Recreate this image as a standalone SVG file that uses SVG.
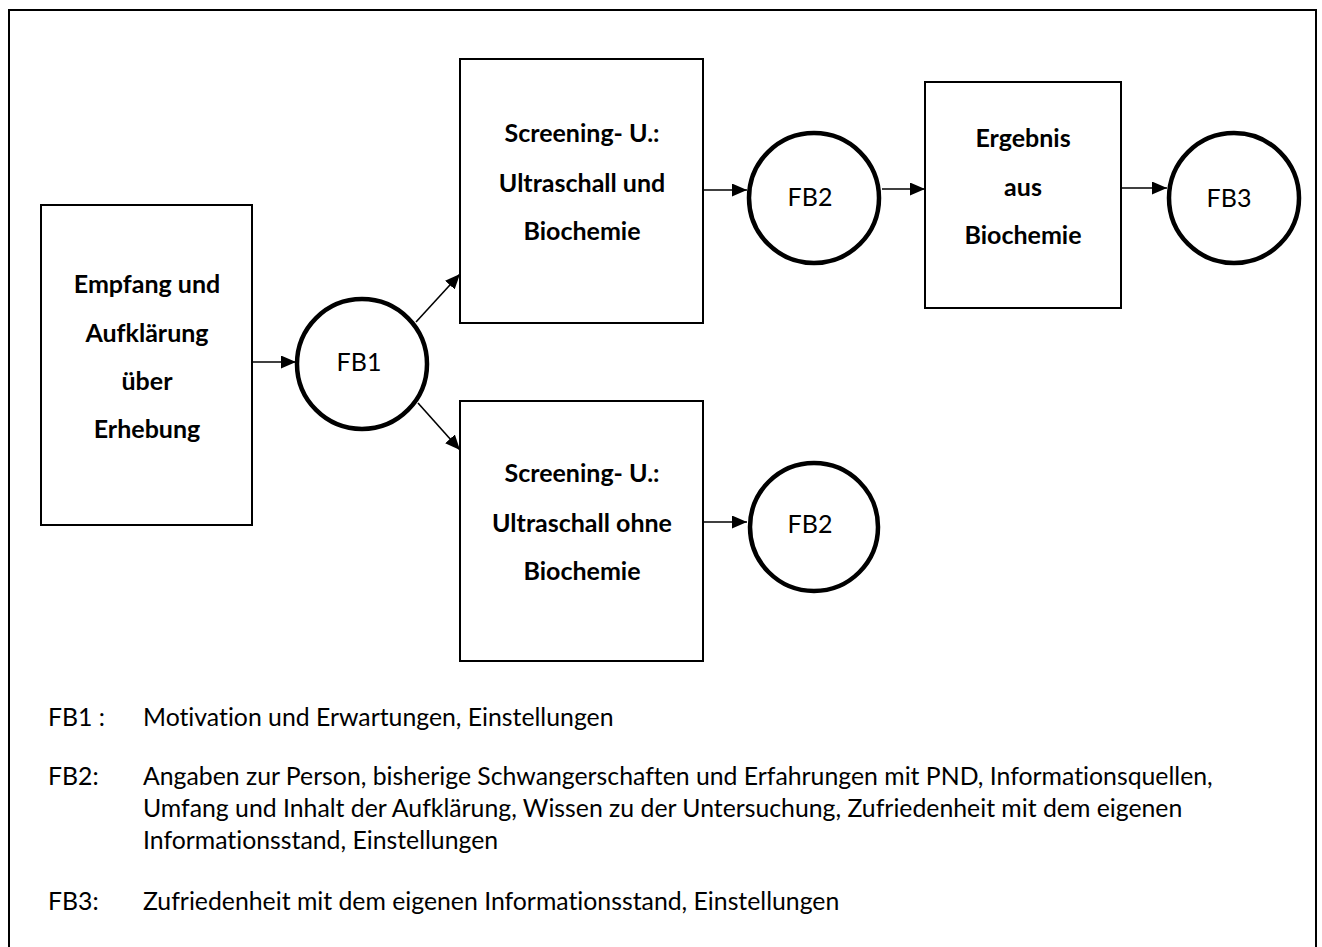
<svg xmlns="http://www.w3.org/2000/svg" width="1322" height="947" viewBox="0 0 1322 947">
<style>
  .frame{fill:none;stroke:#000;stroke-width:2}
  .box{fill:#fff;stroke:#000;stroke-width:2}
  .circ{fill:#fff;stroke:#000;stroke-width:4.5}
  .conn{fill:none;stroke:#000;stroke-width:1.6}
  text{font-family:Lato,"Liberation Sans",sans-serif;font-variant-ligatures:none;fill:#000}
  .bt{font-size:25px;font-weight:bold;text-anchor:middle}
  .ct{font-size:25px;text-anchor:middle}
  .lt{font-size:24.8px}
</style>
<defs>
  <marker id="ah" viewBox="0 0 15 13" refX="15" refY="6.5" markerWidth="15" markerHeight="13" markerUnits="userSpaceOnUse" orient="auto" preserveAspectRatio="none">
    <path d="M0,0 L15,6.5 L0,13 z" fill="#000"/>
  </marker>
</defs>
<rect width="1322" height="947" fill="#fff"/>
<rect class="frame" x="9" y="10" width="1307" height="960"/>

<g id="connectors">
  <line class="conn" x1="252" y1="362" x2="296" y2="362" marker-end="url(#ah)"/>
  <line class="conn" x1="416" y1="322" x2="460" y2="274" marker-end="url(#ah)"/>
  <line class="conn" x1="418" y1="403" x2="460" y2="450" marker-end="url(#ah)"/>
  <line class="conn" x1="703" y1="190" x2="747" y2="190" marker-end="url(#ah)"/>
  <line class="conn" x1="882" y1="189" x2="925" y2="189" marker-end="url(#ah)"/>
  <line class="conn" x1="1121" y1="188" x2="1167" y2="188" marker-end="url(#ah)"/>
  <line class="conn" x1="703" y1="522" x2="747" y2="522" marker-end="url(#ah)"/>
</g>

<g id="empfang">
  <rect class="box" x="41" y="205" width="211" height="320"/>
  <text class="bt" x="147" y="293">Empfang und</text>
  <text class="bt" x="147" y="342">Aufklärung</text>
  <text class="bt" x="147" y="390">über</text>
  <text class="bt" x="147" y="438">Erhebung</text>
</g>

<g id="fb1">
  <circle class="circ" cx="362" cy="364" r="65"/>
  <text class="ct" x="359" y="371">FB1</text>
</g>

<g id="screening-bio">
  <rect class="box" x="460" y="59" width="243" height="264"/>
  <text class="bt" x="582" y="142">Screening- U.:</text>
  <text class="bt" x="582" y="192">Ultraschall und</text>
  <text class="bt" x="582" y="240">Biochemie</text>
</g>

<g id="screening-ohne">
  <rect class="box" x="460" y="401" width="243" height="260"/>
  <text class="bt" x="582" y="482">Screening- U.:</text>
  <text class="bt" x="582" y="532">Ultraschall ohne</text>
  <text class="bt" x="582" y="580">Biochemie</text>
</g>

<g id="fb2-top">
  <circle class="circ" cx="814" cy="198" r="65"/>
  <text class="ct" x="810" y="206">FB2</text>
</g>

<g id="fb2-bottom">
  <circle class="circ" cx="814" cy="527" r="64"/>
  <text class="ct" x="810" y="533">FB2</text>
</g>

<g id="ergebnis">
  <rect class="box" x="925" y="82" width="196" height="226"/>
  <text class="bt" x="1023" y="147">Ergebnis</text>
  <text class="bt" x="1023" y="196">aus</text>
  <text class="bt" x="1023" y="244">Biochemie</text>
</g>

<g id="fb3">
  <circle class="circ" cx="1234" cy="198" r="65"/>
  <text class="ct" x="1229" y="207">FB3</text>
</g>

<g id="legend">
  <text class="lt" x="48" y="726">FB1 :</text>
  <text class="lt" x="143" y="726">Motivation und Erwartungen, Einstellungen</text>
  <text class="lt" x="48" y="785">FB2:</text>
  <text class="lt" x="143" y="785">Angaben zur Person, bisherige Schwangerschaften und Erfahrungen mit PND, Informationsquellen,</text>
  <text class="lt" x="143" y="817">Umfang und Inhalt der Aufklärung, Wissen zu der Untersuchung, Zufriedenheit mit dem eigenen</text>
  <text class="lt" x="143" y="849">Informationsstand, Einstellungen</text>
  <text class="lt" x="48" y="910">FB3:</text>
  <text class="lt" x="143" y="910">Zufriedenheit mit dem eigenen Informationsstand, Einstellungen</text>
</g>
</svg>
